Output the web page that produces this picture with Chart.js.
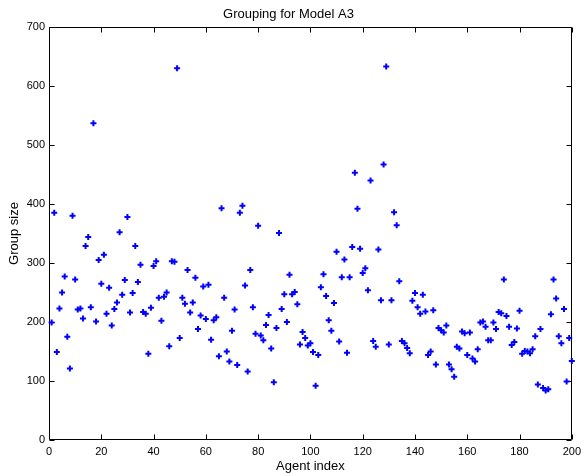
<!DOCTYPE html>
<html>
<head>
<meta charset="utf-8">
<script src="https://cdn.jsdelivr.net/npm/chart.js@4.4.1/dist/chart.umd.min.js"></script>
<style>
  html, body { margin: 0; padding: 0; background: #fff; }
  #wrap { width: 586px; height: 476px; }
</style>
</head>
<body>
<div id="wrap"><canvas id="c" width="586" height="476"></canvas></div>
<script>
// Group size for each agent (agent index = position + 1)
const groupSize = [
  199, 385, 149, 223, 250, 277, 175, 121, 380, 272,
  221, 223, 206, 329, 344, 225, 537, 201, 305, 265,
  314, 214, 258, 194, 222, 233, 352, 246, 271, 378,
  216, 249, 329, 268, 297, 217, 214, 146, 224, 295,
  303, 241, 202, 243, 250, 159, 303, 302, 630, 173,
  241, 231, 288, 216, 233, 275, 188, 211, 260, 205,
  263, 170, 203, 208, 142, 393, 241, 150, 133, 185,
  221, 127, 385, 397, 262, 116, 288, 225, 180, 363,
  177, 169, 195, 212, 155, 98, 190, 351, 222, 247,
  200, 280, 247, 251, 230, 162, 183, 173, 160, 164,
  149, 92, 144, 259, 281, 244, 203, 185, 232, 319,
  167, 276, 306, 148, 276, 327, 453, 392, 324, 283,
  291, 254, 440, 168, 158, 323, 237, 467, 633, 162,
  237, 386, 364, 269, 168, 164, 156, 147, 236, 249,
  225, 214, 246, 218, 144, 150, 220, 128, 190, 186,
  182, 194, 128, 120, 107, 158, 155, 184, 181, 144,
  182, 138, 133, 154, 199, 201, 192, 169, 169, 199,
  188, 217, 215, 272, 210, 192, 161, 166, 189, 219,
  146, 151, 150, 147, 154, 176, 94, 188, 88, 84,
  86, 213, 272, 240, 176, 164, 222, 99, 173, 134
];
const xTicks = [0, 20, 40, 60, 80, 100, 120, 140, 160, 180, 200];
const yTicks = [0, 100, 200, 300, 400, 500, 600, 700];

const points = groupSize.map((v, i) => ({ x: i + 1, y: v }));

const FONT = "'Liberation Sans', Arial, Helvetica, sans-serif";

const frame = {
  id: 'frame',
  beforeDatasetsDraw(chart) {
    const { ctx, chartArea: a, scales: { x, y } } = chart;
    ctx.save();
    ctx.strokeStyle = '#000';
    ctx.lineWidth = 1;
    ctx.beginPath();
    const L = Math.round(a.left) + 0.5, R = Math.round(a.right) - 0.5;
    const T = Math.round(a.top) + 0.5, B = Math.round(a.bottom) - 0.5;
    ctx.rect(L, T, R - L, B - T);
    xTicks.forEach(v => {
      const px = Math.round(x.getPixelForValue(v)) + 0.5;
      ctx.moveTo(px, B); ctx.lineTo(px, B - 5);
      ctx.moveTo(px, T); ctx.lineTo(px, T + 5);
    });
    yTicks.forEach(v => {
      const py = Math.round(y.getPixelForValue(v)) + 0.5;
      ctx.moveTo(L, py); ctx.lineTo(L + 5, py);
      ctx.moveTo(R, py); ctx.lineTo(R - 5, py);
    });
    ctx.stroke();
    ctx.restore();
  }
};

new Chart(document.getElementById('c'), {
  type: 'scatter',
  data: {
    datasets: [{
      data: points,
      pointStyle: 'cross',
      pointRadius: 3,
      pointHoverRadius: 3,
      borderColor: '#0000ff',
      backgroundColor: '#0000ff',
      pointBorderWidth: 2,
      clip: false
    }]
  },
  options: {
    responsive: false,
    animation: false,
    events: [],
    layout: { padding: { left: 0, right: 9, top: 0, bottom: 0 } },
    plugins: {
      legend: { display: false },
      tooltip: { enabled: false },
      title: {
        display: true,
        text: 'Grouping for Model A3',
        color: '#000',
        font: { family: FONT, size: 13, weight: 'normal', lineHeight: 1 },
        padding: { top: 8, bottom: 6 }
      }
    },
    scales: {
      x: {
        type: 'linear',
        min: 0, max: 200,
        afterBuildTicks: s => { s.ticks = xTicks.map(v => ({ value: v })); },
        afterFit: s => { s.height = 36; },
        grid: { display: false, drawTicks: false },
        border: { display: false },
        ticks: {
          color: '#000',
          font: { family: FONT, size: 11 },
          padding: 5,
          maxRotation: 0,
          autoSkip: false
        },
        title: {
          display: true,
          text: 'Agent index',
          color: '#000',
          font: { family: FONT, size: 13, lineHeight: 1 },
          padding: { top: 0, bottom: 3 }
        }
      },
      y: {
        type: 'linear',
        min: 0, max: 700,
        afterBuildTicks: s => { s.ticks = yTicks.map(v => ({ value: v })); },
        afterFit: s => { s.width = 49; },
        grid: { display: false, drawTicks: false },
        border: { display: false },
        ticks: {
          color: '#000',
          font: { family: FONT, size: 11 },
          padding: 4,
          autoSkip: false
        },
        title: {
          display: true,
          text: 'Group size',
          color: '#000',
          font: { family: FONT, size: 13, lineHeight: 1 },
          padding: { top: 8, bottom: 0 }
        }
      }
    }
  },
  plugins: [frame]
});
</script>
</body>
</html>
